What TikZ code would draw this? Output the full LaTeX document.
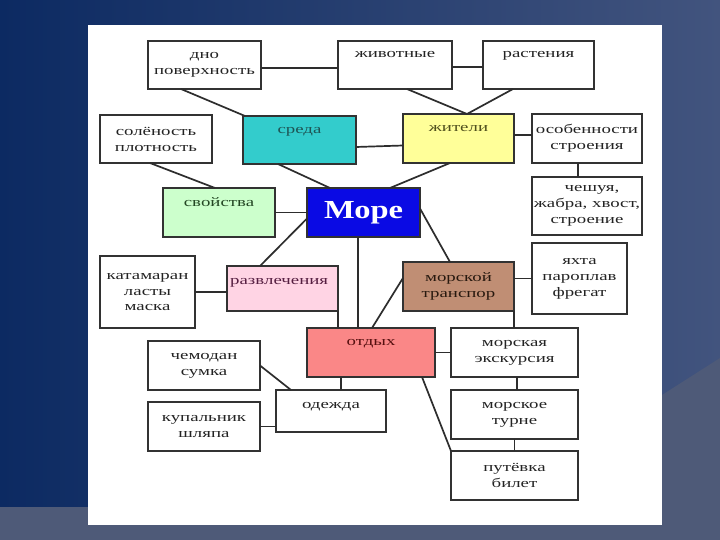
\documentclass[tikz,border=0pt]{standalone}
\usepackage{fontspec}
\setmainfont{Liberation Serif}[FakeStretch=1.45]
\newfontfamily\morefont{Liberation Serif}[FakeStretch=1.25]
\usetikzlibrary{calc}
\definecolor{bgL}{RGB}{12,42,98}
\definecolor{bgM}{RGB}{38,64,118}
\definecolor{bgR}{RGB}{66,84,126}
\definecolor{bgLow}{RGB}{78,90,120}
\definecolor{bord}{RGB}{50,50,50}
\definecolor{conn}{RGB}{45,45,45}
\definecolor{txt}{RGB}{35,35,35}
\definecolor{cTeal}{RGB}{51,204,204}
\definecolor{cYel}{RGB}{255,255,153}
\definecolor{cGrn}{RGB}{204,255,204}
\definecolor{cBlue}{RGB}{10,10,228}
\definecolor{cPink}{RGB}{255,212,228}
\definecolor{cBrown}{RGB}{192,142,116}
\definecolor{cSalm}{RGB}{250,135,135}
\definecolor{tTeal}{RGB}{30,85,85}
\definecolor{tYel}{RGB}{80,80,30}
\definecolor{tGrn}{RGB}{35,70,35}
\definecolor{tPink}{RGB}{85,30,65}
\definecolor{tSalm}{RGB}{85,15,15}
\definecolor{tBrown}{RGB}{40,25,15}
\tikzset{
  every node/.style={font=\fontsize{13}{16}\selectfont, text=txt},
  bx/.style={draw=bord, line width=2.2pt, fill=white, align=center, inner sep=1pt, outer sep=0pt},
  wh/.style 2 args={minimum width=#1pt, minimum height=#2pt},
  lab/.style={anchor=north, yshift=-#1pt, inner sep=2pt, text height=8pt, text depth=2.5pt},
  labw/.style={anchor=north west, yshift=-#1pt, xshift=1pt, inner sep=2pt, text height=8pt, text depth=2.5pt},
  cn/.style={draw=conn, line width=1.7pt},
}
\begin{document}
\begin{tikzpicture}[x=1pt,y=-1pt]
\useasboundingbox (0,0) rectangle (720,540);
% background
\shade[left color=bgL, middle color=bgM, right color=bgR] (0,0) rectangle (720,540);
\fill[bgLow] (662,395) -- (720,358) -- (720,540) -- (662,540) -- cycle;
\fill[bgLow] (0,507) rectangle (720,540);
\fill[white] (88,25) rectangle (662,525);

% boxes
\node[bx, wh={113}{48}] (dno) at (204.5,65) {дно\\поверхность};
\node[bx, wh={114}{48}, label={[lab=6]north:животные}] (zhiv) at (395,65) {};
\node[bx, wh={111}{48}, label={[lab=6]north:растения}] (rast) at (538.5,65) {};
\node[bx, wh={112}{48}] (sol) at (156,139) {солёность\\плотность};
\node[bx, wh={113}{48}, fill=cTeal, label={[lab=7, text=tTeal]north:среда}] (sreda) at (299.5,140) {};
\node[bx, wh={111}{49}, fill=cYel, label={[lab=7, text=tYel]north:жители}] (zhit) at (458.5,138.5) {};
\node[bx, wh={110}{49}] (osob) at (587,138.5) {особенности\\строения};
\node[bx, wh={110}{58}] (chesh) at (587,206) {\hspace*{10pt}чешуя,\\жабра, хвост,\\строение};
\node[bx, wh={112}{49}, fill=cGrn, label={[lab=8, text=tGrn]north:свойства}] (svoj) at (219,212.5) {};
\node[bx, wh={113}{49}, fill=cBlue, text=white, font=\morefont\bfseries\fontsize{26}{30}\selectfont] (more) at (363.5,212.5) {Море};
\node[bx, wh={95}{72}] (katam) at (147.5,292) {катамаран\\ласты\\маска};
\node[bx, wh={111}{45}, fill=cPink, label={[labw=8, text=tPink]north west:развлечения}] (razv) at (282.5,288.5) {};
\node[bx, wh={111}{49}, fill=cBrown, text=tBrown] (mtrans) at (458.5,286.5) {морской\\транспор};
\node[bx, wh={95}{71}] (yacht) at (579.5,278.5) {яхта\\пароплав\\фрегат};
\node[bx, wh={128}{49}, fill=cSalm, label={[lab=7, text=tSalm]north:отдых}] (otdyh) at (371,352.5) {};
\node[bx, wh={127}{49}] (mexc) at (514.5,352.5) {морская\\экскурсия};
\node[bx, wh={112}{49}] (chemo) at (204,365.5) {чемодан\\сумка};
\node[bx, wh={110}{42}, label={[lab=8]north:одежда}] (odezh) at (331,411) {};
\node[bx, wh={112}{49}] (kupal) at (204,426.5) {купальник\\шляпа};
\node[bx, wh={127}{49}] (mturne) at (514.5,414.5) {морское\\турне};
\node[bx, wh={127}{49}] (putev) at (514.5,475.5) {путёвка\\билет};

% connectors
\draw[cn] ([yshift=-3pt]dno.east) -- ([yshift=-3pt]zhiv.west);
\draw[cn] ([yshift=-2pt]zhiv.east) -- ([yshift=-2pt]rast.west);
\draw[cn] ([xshift=33pt]dno.south west) -- ([xshift=2pt]sreda.north west);
\draw[cn] ([xshift=69pt]zhiv.south west) -- ([xshift=64pt]zhit.north west);
\draw[cn] ([xshift=30pt]rast.south west) -- ([xshift=64pt]zhit.north west);
\draw[cn] ([yshift=-7pt]sreda.east) -- ([yshift=-7pt]zhit.west);
\draw[cn] ([xshift=50pt]sol.south west) -- ([xshift=52pt]svoj.north west);
\draw[cn] ([xshift=35pt]sreda.south west) -- ([xshift=23pt]more.north west);
\draw[cn] ([xshift=47pt]zhit.south west) -- ([xshift=83pt]more.north west);
\draw[cn] ([yshift=3.5pt]zhit.east) -- ([yshift=3.5pt]osob.west);
\draw[cn] ([xshift=46pt]osob.south west) -- ([xshift=46pt]chesh.north west);
\draw[cn] (svoj.east) -- (more.west);
\draw[cn] ([yshift=-6pt]more.west) -- ([xshift=33pt]razv.north west);
\draw[cn] ([xshift=51pt]more.south west) -- ([xshift=51pt]more.south west |- otdyh.north);
\draw[cn] ([yshift=4pt]more.east) -- ([xshift=47pt]mtrans.north west);
\draw[cn] ([yshift=8.5pt]mtrans.west) -- ([xshift=65pt]otdyh.north west);
\draw[cn] (razv.south east) -- (razv.south east |- otdyh.north);
\draw[cn] (katam.east) -- (katam.east -| razv.west);
\draw[cn] (yacht.west) -- (yacht.west -| mtrans.east);
\draw[cn] (mtrans.south east) -- (mtrans.south east |- mexc.north);
\draw[cn] (otdyh.east) -- (mexc.west);
\draw[cn] ([xshift=-13pt]otdyh.south east) -- (putev.north west);
\draw[cn] ([xshift=2.5pt]mexc.south) -- ([xshift=2.5pt]mturne.north);
\draw[cn] (mturne.south) -- (putev.north);
\draw[cn] ([xshift=34pt]otdyh.south west) -- ([xshift=34pt]otdyh.south west |- odezh.north);
\draw[cn] (chemo.east) -- ([xshift=15pt]odezh.north west);
\draw[cn] (kupal.east) -- (kupal.east -| odezh.west);
\end{tikzpicture}
\end{document}
